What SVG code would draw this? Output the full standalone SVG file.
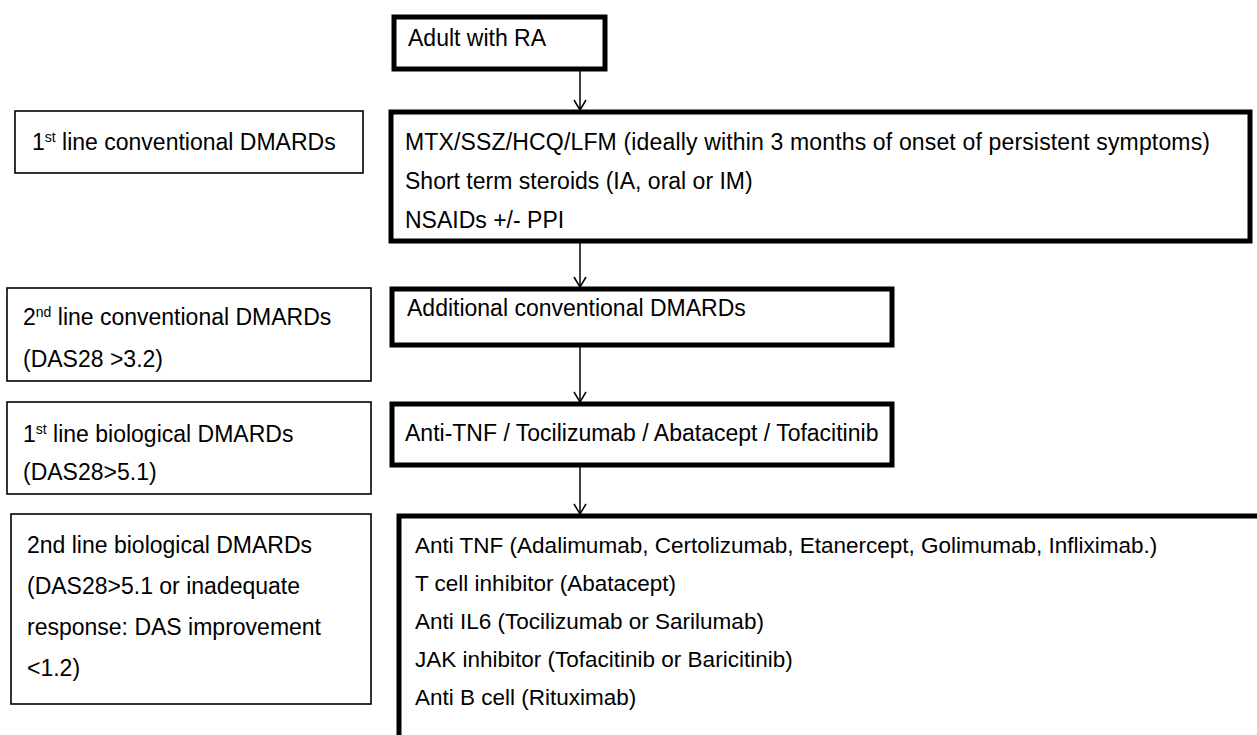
<svg xmlns="http://www.w3.org/2000/svg" width="1257" height="735" viewBox="0 0 1257 735">
<style>
text{font-family:"Liberation Sans",Arial,sans-serif;font-size:23px;fill:#000}
.b{font-size:22.5px}
.thick{fill:#fff;stroke:#000;stroke-width:5;stroke-linejoin:miter}
.thin{fill:#fff;stroke:#000;stroke-width:1.6}
.sup{font-size:14px}
.conn line,.conn path{stroke:#000;stroke-width:1.5;fill:none}
</style>
<rect width="1257" height="735" fill="#fff"/>
<g class="conn" id="connectors">
<line x1="580" y1="71" x2="580" y2="110"/><path d="M574 100 L580 110 L586 100"/>
<line x1="580" y1="243" x2="580" y2="287"/><path d="M574 277 L580 287 L586 277"/>
<line x1="580" y1="347" x2="580" y2="402"/><path d="M574 392 L580 402 L586 392"/>
<line x1="580" y1="467" x2="580" y2="514"/><path d="M574 504 L580 514 L586 504"/>
</g>
<g id="adult">
<rect class="thick" x="394" y="17" width="211" height="52"/>
<text x="408" y="46">Adult with RA</text>
</g>
<g id="label1">
<rect class="thin" x="15" y="111" width="348" height="62"/>
<text x="32" y="150">1<tspan class="sup" dy="-8">st</tspan><tspan dy="8"> line conventional DMARDs</tspan></text>
</g>
<g id="first-line">
<rect class="thick" x="391" y="112" width="859" height="129"/>
<text x="405" y="150" textLength="805" lengthAdjust="spacing">MTX/SSZ/HCQ/LFM (ideally within 3 months of onset of persistent symptoms)</text>
<text x="405" y="189">Short term steroids (IA, oral or IM)</text>
<text x="405" y="228">NSAIDs +/- PPI</text>
</g>
<g id="label2">
<rect class="thin" x="7" y="288" width="364" height="93"/>
<text x="23" y="325">2<tspan class="sup" dy="-8">nd</tspan><tspan dy="8"> line conventional DMARDs</tspan></text>
<text x="23" y="367">(DAS28 &gt;3.2)</text>
</g>
<g id="additional">
<rect class="thick" x="392" y="289" width="500" height="56"/>
<text x="407" y="316">Additional conventional DMARDs</text>
</g>
<g id="label3">
<rect class="thin" x="7" y="402" width="364" height="92"/>
<text x="23" y="442">1<tspan class="sup" dy="-8">st</tspan><tspan dy="8"> line biological DMARDs</tspan></text>
<text x="23" y="480">(DAS28&gt;5.1)</text>
</g>
<g id="first-bio">
<rect class="thick" x="392" y="404" width="500" height="61"/>
<text x="405" y="441">Anti-TNF / Tocilizumab / Abatacept / Tofacitinib</text>
</g>
<g id="label4">
<rect class="thin" x="11" y="514" width="360" height="190"/>
<text x="27" y="553">2nd line biological DMARDs</text>
<text x="27" y="594">(DAS28&gt;5.1 or inadequate</text>
<text x="27" y="635">response: DAS improvement</text>
<text x="27" y="676">&lt;1.2)</text>
</g>
<g id="second-bio">
<rect class="thick" x="399" y="516" width="870" height="240"/>
<text class="b" x="415" y="553">Anti TNF (Adalimumab, Certolizumab, Etanercept, Golimumab, Infliximab.)</text>
<text class="b" x="415" y="591">T cell inhibitor (Abatacept)</text>
<text class="b" x="415" y="629">Anti IL6 (Tocilizumab or Sarilumab)</text>
<text class="b" x="415" y="667">JAK inhibitor (Tofacitinib or Baricitinib)</text>
<text class="b" x="415" y="705">Anti B cell (Rituximab)</text>
</g>
</svg>
